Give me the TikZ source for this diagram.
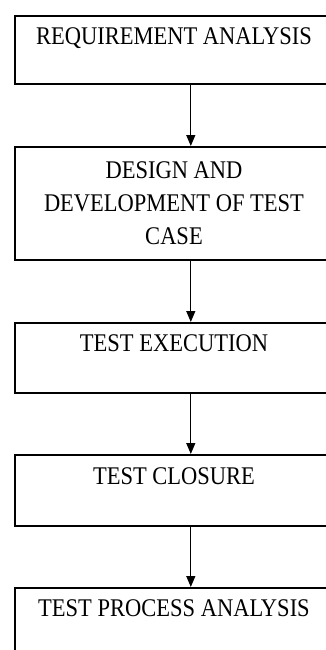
\documentclass[tikz,border=0pt]{standalone}
\usepackage{fontspec}
\setmainfont{Liberation Serif}
\usetikzlibrary{arrows.meta}
\newcommand\tallcaps[1]{\scalebox{1}[1.13]{#1}}
\begin{document}
\begin{tikzpicture}[x=1pt,y=-1pt,
  box/.style={draw,line width=1.6pt,minimum width=352pt,inner sep=0pt,anchor=north west},
  lbl/.style={font=\fontsize{22.5}{33}\selectfont,align=center,inner sep=0pt,anchor=base},
  arr/.style={-{Triangle[length=11pt,width=9pt]},line width=1.3pt}]
\useasboundingbox (0,0) rectangle (326,650);
\clip (0,0) rectangle (326,650);
\node[box,minimum height=68pt]  (b1) at (14,15)  {};
\node[box,minimum height=113pt] (b2) at (14,146) {};
\node[box,minimum height=70pt]  (b3) at (14,322) {};
\node[box,minimum height=71pt]  (b4) at (14,454) {};
\node[box,minimum height=70pt]  (b5) at (14,587) {};
\node[lbl] (t1) at (174,45)  {\tallcaps{REQUIREMENT ANALYSIS}};
\node[lbl] (t2) at (174,244) {\tallcaps{DESIGN AND}\\\tallcaps{DEVELOPMENT OF TEST}\\\tallcaps{CASE}};
\node[lbl] (t3) at (174,351) {\tallcaps{TEST EXECUTION}};
\node[lbl] (t4) at (174,484) {\tallcaps{TEST CLOSURE}};
\node[lbl] (t5) at (174,616) {\tallcaps{TEST PROCESS ANALYSIS}};
\draw[arr] (b1.south) -- (b2.north);
\draw[arr] (b2.south) -- (b3.north);
\draw[arr] (b3.south) -- (b4.north);
\draw[arr] (b4.south) -- (b5.north);
\end{tikzpicture}
\end{document}
